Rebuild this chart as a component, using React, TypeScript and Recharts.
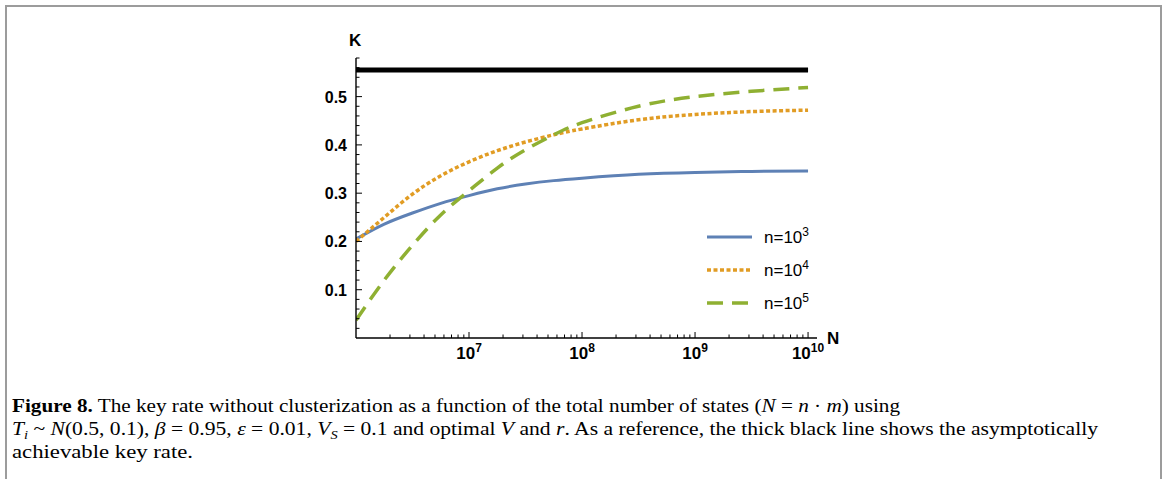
import React from 'react';
import { LineChart, Line, XAxis, YAxis } from 'recharts';

// sample positions (total number of states N) and key rates
const N_VALUES = [1e6, 1.78e6, 3.16e6, 5.62e6, 1e7, 1.78e7, 3.16e7, 5.62e7, 1e8, 3.16e8, 1e9, 3.16e9, 1e10];
const K_N1E3 = [0.205, 0.236, 0.259, 0.279, 0.295, 0.309, 0.319, 0.326, 0.331, 0.339, 0.343, 0.345, 0.346];
const K_N1E4 = [0.2, 0.25, 0.298, 0.336, 0.365, 0.388, 0.406, 0.421, 0.433, 0.452, 0.463, 0.469, 0.472];
const K_N1E5 = [0.037, 0.12, 0.192, 0.255, 0.305, 0.352, 0.39, 0.421, 0.446, 0.48, 0.5, 0.511, 0.519];
const K_ASYMPTOTE = 0.555;

const X_MAJOR_TICKS = [1e7, 1e8, 1e9, 1e10];
const X_DECADES = [1e6, 1e7, 1e8, 1e9];
const X_MINOR_STEPS = [2, 3, 4, 5, 6, 7, 8, 9];
const Y_MAJOR_TICKS = [0.1, 0.2, 0.3, 0.4, 0.5];
const Y_MINOR_TICKS = [0.02, 0.04, 0.06, 0.08, 0.12, 0.14, 0.16, 0.18, 0.22, 0.24, 0.26, 0.28,
  0.32, 0.34, 0.36, 0.38, 0.42, 0.44, 0.46, 0.48, 0.52, 0.54, 0.56, 0.58];

const LEGEND_EXPONENTS = ['3', '4', '5'];

const W = 1166;
const H = 479;
const PLOT_LEFT = 356;
const PLOT_TOP = 58;
const PLOT_BOTTOM = 338;
const PLOT_RIGHT = 817;
const Y_AXIS_W = 60;
const X_AXIS_H = 30;

const AXIS_FONT = '"Liberation Sans", Arial, sans-serif';
const SERIF = '"Liberation Serif", "Times New Roman", serif';

const series = [
  { key: 'n3', color: '#5E81B5', width: 3, dash: undefined as string | undefined },
  { key: 'n4', color: '#E19C24', width: 3.5, dash: '4 2.5' },
  { key: 'n5', color: '#8FB032', width: 3.5, dash: '16 9' },
];

const table = N_VALUES.map((N, i) => ({
  N,
  n3: K_N1E3[i],
  n4: K_N1E4[i],
  n5: K_N1E5[i],
  asym: K_ASYMPTOTE,
}));

const xMinor = X_DECADES.flatMap((d) => X_MINOR_STEPS.map((s) => s * d));
const xTicks = [...xMinor, ...X_MAJOR_TICKS].sort((a, b) => a - b);
const yTicks = [...Y_MINOR_TICKS, ...Y_MAJOR_TICKS].sort((a, b) => a - b);

const isMajor = (list: number[], v: number) => list.some((m) => Math.abs(m - v) < 1e-9 * Math.max(1, m));

function XTick(props: any) {
  const { x, payload } = props;
  const major = isMajor(X_MAJOR_TICKS, payload.value);
  const exp = Math.round(Math.log10(payload.value));
  return (
    <g>
      <line x1={x} x2={x} y1={PLOT_BOTTOM} y2={PLOT_BOTTOM - (major ? 6 : 3.5)} stroke="#000" strokeWidth={1} />
      {major && (
        <text x={x} y={PLOT_BOTTOM + 21} textAnchor="middle" fontFamily={AXIS_FONT} fontWeight="bold" fontSize={17} fill="#000">
          <tspan>10</tspan>
          <tspan dy={-7} fontSize={12}>{exp}</tspan>
        </text>
      )}
    </g>
  );
}

function YTick(props: any) {
  const { y, payload } = props;
  const major = isMajor(Y_MAJOR_TICKS, payload.value);
  return (
    <g>
      <line x1={PLOT_LEFT} x2={PLOT_LEFT + (major ? 6 : 3.5)} y1={y} y2={y} stroke="#000" strokeWidth={1} />
      {major && (
        <text x={PLOT_LEFT - 9} y={y + 6} textAnchor="end" fontFamily={AXIS_FONT} fontWeight="bold" fontSize={16} fill="#000">
          {payload.value.toFixed(1)}
        </text>
      )}
    </g>
  );
}

const it = { fontStyle: 'italic' as const };

export default function App() {
  return (
    <div style={{ position: 'absolute', left: 0, top: 0, width: W, height: H, background: '#fff', overflow: 'hidden' }}>
      <div
        style={{
          position: 'absolute', left: 5, top: 5, width: 1157, height: 520, boxSizing: 'border-box',
          borderTop: '2px solid #9c9c9c', borderLeft: '2px solid #9c9c9c', borderRight: '2px solid #9c9c9c',
        }}
      />
      <div style={{ position: 'absolute', left: 0, top: 0 }}>
        <LineChart
          width={W}
          height={H}
          data={table}
          margin={{ top: PLOT_TOP, left: PLOT_LEFT - Y_AXIS_W, right: W - PLOT_RIGHT, bottom: H - PLOT_BOTTOM - X_AXIS_H }}
        >
          <XAxis
            dataKey="N"
            type="number"
            scale="log"
            domain={[1e6, 1.2e10]}
            allowDataOverflow
            ticks={xTicks}
            interval={0}
            height={X_AXIS_H}
            tickLine={false}
            axisLine={{ stroke: '#000', strokeWidth: 1.4 }}
            tick={<XTick />}
          />
          <YAxis
            type="number"
            domain={[0, 0.58]}
            allowDataOverflow
            ticks={yTicks}
            interval={0}
            width={Y_AXIS_W}
            tickLine={false}
            axisLine={{ stroke: '#000', strokeWidth: 1.4 }}
            tick={<YTick />}
          />
          <Line dataKey="asym" type="linear" stroke="#000" strokeWidth={5} dot={false} isAnimationActive={false} />
          {series.map((s) => (
            <Line
              key={s.key}
              dataKey={s.key}
              type="natural"
              stroke={s.color}
              strokeWidth={s.width}
              strokeDasharray={s.dash}
              dot={false}
              isAnimationActive={false}
            />
          ))}
        </LineChart>
      </div>
      <svg width={W} height={H} style={{ position: 'absolute', left: 0, top: 0, pointerEvents: 'none' }}>
        <text x={349} y={46} fontFamily={AXIS_FONT} fontWeight="bold" fontSize={17}>K</text>
        <text x={827} y={344} fontFamily={AXIS_FONT} fontWeight="bold" fontSize={17}>N</text>
        {series.map((s, i) => (
          <g key={s.key}>
            <line
              x1={707} x2={752} y1={237 + i * 33} y2={237 + i * 33}
              stroke={s.color} strokeWidth={s.width} strokeDasharray={s.dash}
            />
            <text x={764} y={243 + i * 33} fontFamily={AXIS_FONT} fontSize={17} fill="#000">
              <tspan>n=10</tspan>
              <tspan dy={-7} fontSize={12}>{LEGEND_EXPONENTS[i]}</tspan>
            </text>
          </g>
        ))}
        <g fontFamily={SERIF} fontSize={18} fill="#000">
          <text x={12} y={412} textLength={888} lengthAdjust="spacingAndGlyphs">
            <tspan fontWeight="bold">Figure 8.</tspan>
            <tspan>{' The key rate without clusterization as a function of the total number of states ('}</tspan>
            <tspan style={it}>N</tspan>
            <tspan>{' = '}</tspan>
            <tspan style={it}>n</tspan>
            <tspan>{' · '}</tspan>
            <tspan style={it}>m</tspan>
            <tspan>{') using'}</tspan>
          </text>
          <text x={12} y={435} textLength={1086} lengthAdjust="spacingAndGlyphs">
            <tspan style={it}>T</tspan>
            <tspan style={it} fontSize={12} dy={4}>i</tspan>
            <tspan dy={-4}>{' ~ '}</tspan>
            <tspan style={it}>N</tspan>
            <tspan>{'(0.5, 0.1), '}</tspan>
            <tspan style={it}>β</tspan>
            <tspan>{' = 0.95, '}</tspan>
            <tspan style={it}>ε</tspan>
            <tspan>{' = 0.01, '}</tspan>
            <tspan style={it}>V</tspan>
            <tspan style={it} fontSize={12} dy={4}>S</tspan>
            <tspan dy={-4}>{' = 0.1 and optimal '}</tspan>
            <tspan style={it}>V</tspan>
            <tspan>{' and '}</tspan>
            <tspan style={it}>r</tspan>
            <tspan>{'. As a reference, the thick black line shows the asymptotically'}</tspan>
          </text>
          <text x={12} y={458} textLength={181} lengthAdjust="spacingAndGlyphs">
            achievable key rate.
          </text>
        </g>
      </svg>
    </div>
  );
}
